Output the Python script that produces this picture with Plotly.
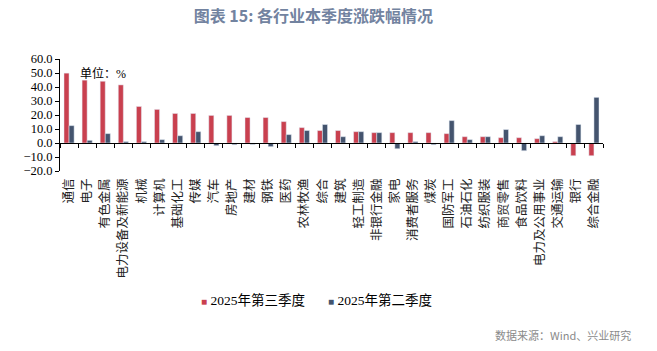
import plotly.graph_objects as go

categories = ["通信", "电子", "有色金属", "电力设备及新能源", "机械", "计算机", "基础化工", "传媒",
              "汽车", "房地产", "建材", "钢铁", "医药", "农林牧渔", "综合", "建筑", "轻工制造",
              "非银行金融", "家电", "消费者服务", "煤炭", "国防军工", "石油石化", "纺织服装",
              "商贸零售", "食品饮料", "电力及公用事业", "交通运输", "银行", "综合金融"]
q3_2025 = [49.9, 44.9, 44.1, 41.5, 26.1, 24.0, 21.1, 21.1, 19.7, 19.7, 18.2, 18.2, 15.3, 11.0,
           8.9, 8.9, 8.1, 7.4, 7.4, 7.4, 7.4, 6.7, 4.5, 4.5, 3.8, 3.8, 3.1, 1.0, -9.1, -9.1]
q2_2025 = [12.4, 1.9, 6.7, 1.0, 1.0, 2.4, 5.2, 8.1, -1.9, -1.2, -1.0, -2.6, 6.0, 8.9,
           13.2, 4.5, 8.1, 7.4, -4.1, 1.0, -1.2, 16.0, 2.4, 4.5, 9.6, -5.5, 5.2, 4.5, 13.2, 32.6]
y_ticks = [60, 50, 40, 30, 20, 10, 0, -10, -20]
series_names = ["2025年第三季度", "2025年第二季度"]

RED = "#C9404F"
BLUE = "#44546E"
SERIF = "Liberation Serif, Noto Sans CJK SC"

fig = go.Figure()
fig.add_trace(go.Bar(x=categories, y=q3_2025, name=series_names[0], marker_color=RED, showlegend=False))
fig.add_trace(go.Bar(x=categories, y=q2_2025, name=series_names[1], marker_color=BLUE, showlegend=False))
# helper trace for the zero-line axis with boundary ticks
fig.add_trace(go.Scatter(x=categories, y=[0] * len(categories), xaxis="x2", mode="lines",
                         line=dict(width=0), opacity=0, showlegend=False, hoverinfo="skip"))

fig.update_layout(
    width=657, height=351,
    margin=dict(l=60, r=54, t=59, b=180, autoexpand=False),
    paper_bgcolor="white", plot_bgcolor="white",
    barmode="group", bargap=0.44, bargroupgap=0,
    showlegend=False,
    title=dict(text="<b>图表 15: 各行业本季度涨跌幅情况</b>",
               font=dict(family="Noto Sans CJK SC", size=16, color="#7283A0"),
               x=0.477, xanchor="center", xref="container",
               y=1 - 16 / 351, yanchor="middle", yref="container"),
    xaxis=dict(type="category", categoryarray=categories, range=[-0.5, len(categories) - 0.5],
               showline=False, ticks="", showgrid=False, automargin=False,
               tickfont=dict(family="Noto Sans CJK SC", size=12.5, color="#222"),
               tickangle=-90, ticklabelstandoff=4),
    xaxis2=dict(type="category", categoryarray=categories, range=[-0.5, len(categories) - 0.5],
                overlaying="x", anchor="free", position=0.25,
                showline=True, linecolor="black", linewidth=1.2,
                ticks="outside", tickson="boundaries", ticklen=4, tickcolor="black",
                showticklabels=False, showgrid=False, automargin=False),
    yaxis=dict(range=[-20, 60], tickvals=y_ticks, tickformat=".1f",
               showline=True, linecolor="black", linewidth=1,
               ticks="outside", ticklen=4, tickcolor="black",
               showgrid=False, zeroline=False, automargin=False,
               tickfont=dict(family=SERIF, size=12.5, color="black")),
)

# legend entries (small square swatch + series name)
legend_pos = [(199 - 60) / 543, (326 - 60) / 543]
for name, col, xp in zip(series_names, [RED, BLUE], legend_pos):
    fig.add_annotation(
        text=f'<span style="color:{col};font-size:10px">■</span> {name}',
        xref="paper", yref="paper", x=xp, y=(171 - 300) / 112,
        xanchor="left", yanchor="middle", showarrow=False,
        font=dict(family=SERIF, size=13.5, color="black"))

fig.add_annotation(text="单位：%", xref="paper", yref="paper",
                   x=(78 - 60) / 543, y=(171 - 73) / 112, xanchor="left", yanchor="middle",
                   showarrow=False, font=dict(family=SERIF, size=12, color="black"))
fig.add_annotation(text="数据来源：Wind、兴业研究", xref="paper", yref="paper",
                   x=(633 - 60) / 543, y=(171 - 335) / 112, xanchor="right", yanchor="middle",
                   showarrow=False, font=dict(family="Noto Sans CJK SC", size=11, color="#8a8a8a"))

fig.write_html("out.html")
